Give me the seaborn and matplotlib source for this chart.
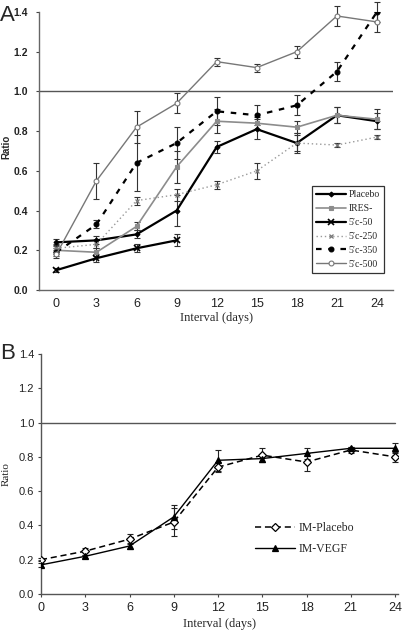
import numpy as np
import pandas as pd
import matplotlib
matplotlib.use("Agg")
import matplotlib.pyplot as plt
import seaborn as sns
from matplotlib.lines import Line2D

sns.set_style("white")

days = [0, 3, 6, 9, 12, 15, 18, 21, 24]
days50 = [0, 3, 6, 9]

placebo = [0.24, 0.25, 0.28, 0.40, 0.72, 0.81, 0.74, 0.88, 0.85]
placebo_err = [0.015, 0.02, 0.02, 0.08, 0.03, 0.05, 0.05, 0.04, 0.04]
ires = [0.20, 0.19, 0.32, 0.62, 0.85, 0.84, 0.82, 0.88, 0.86]
ires_err = [0.02, 0.02, 0.02, 0.08, 0.06, 0.03, 0.03, 0.04, 0.05]
c50 = [0.10, 0.16, 0.21, 0.25]
c50_err = [0.01, 0.02, 0.02, 0.03]
c250 = [0.21, 0.23, 0.45, 0.48, 0.53, 0.60, 0.74, 0.73, 0.77]
c250_err = [0.02, 0.02, 0.02, 0.03, 0.02, 0.04, 0.04, 0.01, 0.01]
c350 = [0.19, 0.33, 0.64, 0.74, 0.90, 0.88, 0.93, 1.10, 1.40]
c350_err = [0.02, 0.02, 0.14, 0.08, 0.07, 0.05, 0.05, 0.05, 0.05]
c500 = [0.18, 0.55, 0.82, 0.94, 1.15, 1.12, 1.20, 1.38, 1.35]
c500_err = [0.02, 0.09, 0.08, 0.05, 0.02, 0.02, 0.03, 0.05, 0.05]

im_placebo = [0.20, 0.25, 0.32, 0.42, 0.74, 0.81, 0.77, 0.84, 0.80]
im_placebo_err = [0.01, 0.02, 0.03, 0.08, 0.03, 0.04, 0.05, 0.02, 0.03]
im_vegf = [0.17, 0.22, 0.28, 0.45, 0.78, 0.79, 0.82, 0.85, 0.85]
im_vegf_err = [0.01, 0.01, 0.02, 0.07, 0.06, 0.02, 0.03, 0.01, 0.03]

yticks = [0.0, 0.2, 0.4, 0.6, 0.8, 1.0, 1.2, 1.4]

fig = plt.figure(figsize=(4.05, 6.37), dpi=100)
axA = fig.add_axes([39/405, 1-290/637, (393-39)/405, (290-12)/637])
axB = fig.add_axes([41/405, 1-594/637, (398-41)/405, (594-354)/637])

seriesA = [
    ("Placebo", days, placebo, placebo_err, dict(color="black", lw=1.6, ls="-", marker="D", ms=2.5, mfc="black", mec="black")),
    ("IRES-", days, ires, ires_err, dict(color="#8c8c8c", lw=1.2, ls="-", marker="s", ms=3.5, mfc="#8c8c8c", mec="#8c8c8c")),
    ("5\u2032c-50", days50, c50, c50_err, dict(color="black", lw=1.6, ls="-", marker="x", ms=5, mew=1.2, mfc="black", mec="black")),
    ("5\u2032c-250", days, c250, c250_err, dict(color="#999999", lw=1.0, ls=(0, (1, 2)), marker="x", ms=3.5, mew=0.9, mfc="#777777", mec="#777777")),
    ("5\u2032c-350", days, c350, c350_err, dict(color="black", lw=1.6, ls=(0, (2.5, 3)), marker="o", ms=3.5, mfc="black", mec="black")),
    ("5\u2032c-500", days, c500, c500_err, dict(color="#777777", lw=1.0, ls="-", marker="o", ms=3.5, mfc="white", mec="#777777")),
]

handles = []
for name, x, y, e, st in seriesA:
    df = pd.DataFrame({"day": x, "ratio": y})
    sns.lineplot(data=df, x="day", y="ratio", ax=axA, color=st["color"], lw=st["lw"],
                 linestyle=st["ls"], marker=st["marker"], markersize=st["ms"],
                 markerfacecolor=st["mfc"], markeredgecolor=st["mec"],
                 markeredgewidth=st.get("mew", 0.8), errorbar=None, zorder=3)
    axA.errorbar(x, y, yerr=e, fmt="none", ecolor="#333333", elinewidth=0.8, capsize=2.5,
                 capthick=0.8, zorder=2, clip_on=False)
    handles.append(Line2D([], [], color=st["color"], lw=st["lw"], ls=st["ls"], marker=st["marker"],
                          ms=st["ms"], mfc=st["mfc"], mec=st["mec"], mew=st.get("mew", 0.8), label=name))

axA.axhline(1.0, color="#555555", lw=1.0, zorder=1)
axA.set_xlim(-1.3, 25.2)
axA.set_ylim(0, 1.4)
axA.set_xticks(days)
axA.set_yticks(yticks)
axA.set_yticklabels([f"{v:.1f}" for v in yticks], fontsize=7.5, fontweight="bold", color="#222222", family="Liberation Sans")
axA.set_xticklabels([str(d) for d in days], fontsize=9, color="#222222", family="Liberation Sans")
axA.tick_params(axis="y", length=2, width=0.8, direction="out", left=True, pad=6, colors="#444444", labelcolor="#222222")
axA.tick_params(axis="x", length=0, pad=6)
for s in ["top", "right"]:
    axA.spines[s].set_visible(False)
for s in ["left", "bottom"]:
    axA.spines[s].set_color("#666666")
    axA.spines[s].set_linewidth(1.0)
axA.set_xlabel("Interval (days)", fontsize=9, family="Liberation Serif", labelpad=1)
axA.set_ylabel("Ratio", fontsize=7, fontweight="bold", family="Liberation Sans")
axA.yaxis.set_label_coords(-0.079, 0.514)
leg = axA.legend(handles=handles, loc="upper left", bbox_to_anchor=(273/354, 1 - (186 - 12)/278),
                 frameon=True, fancybox=False, edgecolor="black",
                 prop={"family": "Liberation Serif", "size": 7}, handlelength=3.0,
                 labelspacing=0.5, borderpad=0.45, handletextpad=0.3, borderaxespad=0)
leg.get_frame().set_linewidth(0.9)
fig.text(0/405, 1 - 21/637, "A", fontsize=16, family="Liberation Sans")

seriesB = [
    ("IM-Placebo", im_placebo, im_placebo_err, dict(color="black", lw=1.1, ls=(0, (4, 2.5)), marker="D", ms=4, mfc="white", mec="black")),
    ("IM-VEGF", im_vegf, im_vegf_err, dict(color="black", lw=1.0, ls="-", marker="^", ms=5, mfc="black", mec="black")),
]
handlesB = []
for name, y, e, st in seriesB:
    df = pd.DataFrame({"day": days, "ratio": y})
    sns.lineplot(data=df, x="day", y="ratio", ax=axB, color=st["color"], lw=st["lw"],
                 linestyle=st["ls"], marker=st["marker"], markersize=st["ms"],
                 markerfacecolor=st["mfc"], markeredgecolor=st["mec"], markeredgewidth=0.9,
                 errorbar=None, zorder=3)
    axB.errorbar(days, y, yerr=e, fmt="none", ecolor="#222222", elinewidth=0.8, capsize=2.5,
                 capthick=0.8, zorder=2, clip_on=False)
    handlesB.append(Line2D([], [], color=st["color"], lw=st["lw"], ls=st["ls"], marker=st["marker"],
                           ms=st["ms"], mfc=st["mfc"], mec=st["mec"], mew=0.9, label=name))

axB.plot([0, 24], [1.0, 1.0], color="#555555", lw=1.0, zorder=1)
axB.set_xlim(0, 24.2)
axB.set_ylim(0, 1.4)
axB.set_xticks(days)
axB.set_yticks(yticks)
axB.set_yticklabels([f"{v:.1f}" for v in yticks], fontsize=8, color="#222222", family="Liberation Sans")
axB.set_xticklabels([str(d) for d in days], fontsize=9, color="#222222", family="Liberation Sans")
axB.tick_params(axis="y", length=2, width=0.8, direction="out", left=True, pad=3, colors="#444444", labelcolor="#222222")
axB.tick_params(axis="x", length=2, width=0.8, direction="out", bottom=True, pad=4, colors="#444444", labelcolor="#222222")
for s in ["top", "right"]:
    axB.spines[s].set_visible(False)
for s in ["left", "bottom"]:
    axB.spines[s].set_color("#555555")
    axB.spines[s].set_linewidth(1.0)
axB.set_xlabel("Interval (days)", fontsize=9, family="Liberation Serif", labelpad=3)
axB.set_ylabel("Ratio", fontsize=8, family="Liberation Serif")
axB.yaxis.set_label_coords(-0.085, 0.5)
axB.legend(handles=handlesB, loc="upper left", bbox_to_anchor=(214/357, 1 - (522 - 354)/240),
           frameon=False, prop={"family": "Liberation Serif", "size": 8.5}, handlelength=3.4,
           labelspacing=0.8, handletextpad=0.3, borderaxespad=0, borderpad=0)
fig.text(0/405, 1 - 359/637, "B", fontsize=16, family="Liberation Sans")

fig.savefig("out.png", dpi=100)
